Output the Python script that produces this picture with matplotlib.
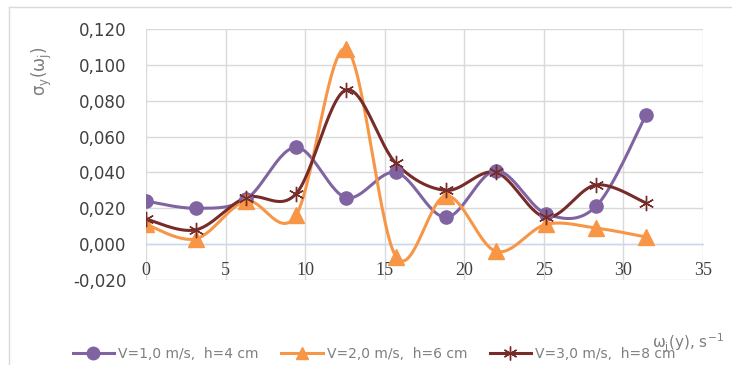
import numpy as np
import matplotlib
matplotlib.use("Agg")
import matplotlib.pyplot as plt
from matplotlib.lines import Line2D
from matplotlib.ticker import FuncFormatter

# частоты (кратные pi) и значения по трём сериям
omega = [0, 3.14, 6.28, 9.42, 12.57, 15.71, 18.85, 21.99, 25.13, 28.27, 31.42]
sigma_v1 = [0.024, 0.020, 0.025, 0.054, 0.026, 0.040, 0.015, 0.041, 0.017, 0.021, 0.072]
sigma_v2 = [0.011, 0.003, 0.024, 0.016, 0.109, -0.007, 0.027, -0.004, 0.011, 0.009, 0.004]
sigma_v3 = [0.014, 0.008, 0.026, 0.028, 0.086, 0.045, 0.030, 0.040, 0.015, 0.033, 0.023]
labels = ["V=1,0 m/s,  h=4 cm", "V=2,0 m/s,  h=6 cm", "V=3,0 m/s,  h=8 cm"]
colors = ["#8064A2", "#F79646", "#772C2A"]


def smooth(x, y, n=30):
    # сглаживание линии как в Excel (кривые Безье)
    x = np.asarray(x, float)
    y = np.asarray(y, float)
    px = np.concatenate([[x[0]], x, [x[-1]]])
    py = np.concatenate([[y[0]], y, [y[-1]]])
    xs, ys = [], []
    t = np.linspace(0, 1, n)
    for i in range(1, len(px) - 2):
        p0 = np.array([px[i], py[i]])
        p3 = np.array([px[i + 1], py[i + 1]])
        p1 = p0 + (np.array([px[i + 1], py[i + 1]]) - np.array([px[i - 1], py[i - 1]])) / 6
        p2 = p3 - (np.array([px[i + 2], py[i + 2]]) - np.array([px[i], py[i]])) / 6
        b = ((1 - t) ** 3)[:, None] * p0 + (3 * (1 - t) ** 2 * t)[:, None] * p1 \
            + (3 * (1 - t) * t ** 2)[:, None] * p2 + (t ** 3)[:, None] * p3
        xs.extend(b[:, 0])
        ys.extend(b[:, 1])
    return xs, ys


fig = plt.figure(figsize=(7.32, 3.65), dpi=100)
ax = fig.add_axes([146 / 732, 1 - 280 / 365, 557 / 732, 251 / 365])

series = [sigma_v1, sigma_v2, sigma_v3]
markers = ["o", "^", (6, 2, 0)]
msizes = [9.5, 11, 11]
lg_sizes = [9, 9, 10]
handles = []
for s, c, m, ms, lms in zip(series, colors, markers, msizes, lg_sizes):
    sx, sy = smooth(omega, s)
    ax.plot(sx, sy, color=c, lw=2.2, zorder=3)
    ax.plot(omega, s, ls="none", marker=m, ms=ms, color=c, mec=c, mew=1.0, zorder=4)
    handles.append(Line2D([0], [0], color=c, lw=2.2, marker=m, ms=lms, mec=c, mew=1.0))

ax.set_xlim(0, 35)
ax.set_ylim(-0.02, 0.12)
ax.set_xticks(np.arange(0, 36, 5))
ax.set_yticks(np.arange(-0.02, 0.121, 0.02))
ax.yaxis.set_major_formatter(FuncFormatter(lambda v, p: f"{v:.3f}".replace(".", ",").replace("-0,000", "0,000")))
ax.grid(True, color="#D9D9D9", lw=1.0, zorder=0)
for side in ["left", "right", "top"]:
    ax.spines[side].set_visible(False)
ax.spines["bottom"].set_position(("data", 0))
ax.spines["bottom"].set_color("#C6D9F1")
ax.spines["bottom"].set_linewidth(1.0)
ax.tick_params(axis="both", length=0, colors="#404040")
ax.tick_params(axis="x", pad=13, labelsize=12)
ax.tick_params(axis="y", pad=14, labelsize=12)
for t in ax.get_xticklabels():
    t.set_fontfamily("Liberation Serif")
    t.set_fontsize(13)

plt.rcParams["mathtext.default"] = "regular"
fig.text(42 / 732, 1 - 71 / 365, r"$\sigma_y(\omega_j)$", rotation=90, ha="center", va="center",
         fontsize=12, color="#7F7F7F")
fig.text(724 / 732, 1 - 343 / 365, r"$\omega_j(y)$, s$^{-1}$", ha="right", va="center",
         fontsize=11, color="#7F7F7F")

fig.legend(handles, labels, loc="center left", bbox_to_anchor=(60 / 732, 1 - 354 / 365), ncol=3,
           frameon=False, fontsize=10, handlelength=3.0, handletextpad=0.3, columnspacing=1.6,
           labelcolor="#7F7F7F")

# рамка области диаграммы
fig.add_artist(Line2D([9 / 732, 1], [1 - 7 / 365, 1 - 7 / 365], color="#D9D9D9", lw=1))
fig.add_artist(Line2D([9 / 732, 9 / 732], [0, 1 - 7 / 365], color="#D9D9D9", lw=1))

fig.savefig("out.png", dpi=100)
